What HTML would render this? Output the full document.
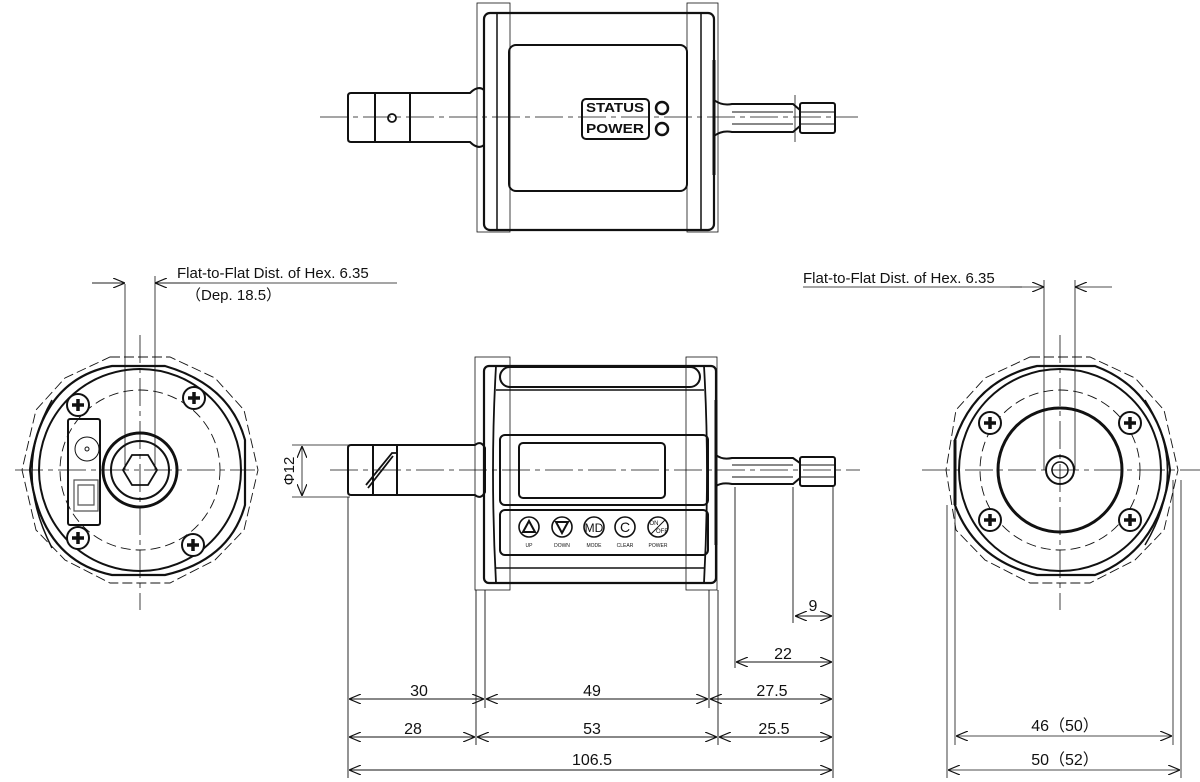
<!DOCTYPE html>
<html><head><meta charset="utf-8"><style>
body{margin:0;background:#fff}
svg{display:block}
text{font-family:"Liberation Sans",sans-serif;fill:#111}
</style></head><body>
<svg width="1200" height="782" viewBox="0 0 1200 782" xmlns="http://www.w3.org/2000/svg">
<defs>
<marker id="a" viewBox="0 0 12 10" refX="12" refY="5" markerWidth="12" markerHeight="10" orient="auto-start-reverse" markerUnits="userSpaceOnUse"><path d="M0,0 L12,5 L0,10" fill="none" stroke="#111" stroke-width="1.2"/></marker>
<g id="scr"><circle r="11" fill="#fff" stroke="#111" stroke-width="2"/><path d="M-6,0H6M0,-6V6" stroke="#111" stroke-width="3.5"/></g>
</defs>
<g fill="none" stroke="#111">
<!-- ===== TOP VIEW ===== -->
<line x1="320" y1="117" x2="858" y2="117" stroke-width="0.8" stroke-dasharray="28,5,5,5"/>
<rect x="477" y="3" width="33" height="229" stroke-width="0.8"/>
<rect x="687" y="3" width="31" height="229" stroke-width="0.8"/>
<rect x="484" y="13" width="230" height="217" rx="6" stroke-width="2.2"/>
<line x1="497" y1="13" x2="497" y2="230" stroke-width="1.5"/>
<line x1="701" y1="13" x2="701" y2="230" stroke-width="1.5"/>
<rect x="509" y="45" width="178" height="146" rx="7" stroke-width="2"/>
<path d="M351,93 H470 Q478,85 484,90 V145 Q478,150 470,142 H351 Q348,142 348,139 V96 Q348,93 351,93Z" stroke-width="2"/>
<line x1="375" y1="93" x2="375" y2="142" stroke-width="2"/>
<line x1="410" y1="93" x2="410" y2="142" stroke-width="2"/>
<circle cx="392" cy="118" r="4" stroke-width="1.8"/>
<rect x="582" y="99" width="67" height="40" rx="4" stroke-width="2"/>
<text x="615" y="112" font-size="13" font-weight="bold" text-anchor="middle" stroke="none" textLength="58" lengthAdjust="spacingAndGlyphs">STATUS</text>
<text x="615" y="133" font-size="13" font-weight="bold" text-anchor="middle" stroke="none" textLength="58" lengthAdjust="spacingAndGlyphs">POWER</text>
<circle cx="662" cy="108" r="6" stroke-width="2.5"/>
<circle cx="662" cy="129" r="6" stroke-width="2.5"/>
<path d="M714,60 V175" stroke-width="3"/>
<path d="M714,100 Q722,106 732,104 H793 L800,110 V126 L793,132 H732 Q722,130 714,136" stroke-width="2"/>
<rect x="800" y="103" width="35" height="30" rx="2" stroke-width="2"/>
<path d="M732,112 H793 M732,124 H793 M800,112 H835 M800,124 H835" stroke-width="1"/>
<line x1="795" y1="95" x2="795" y2="142" stroke-width="0.8"/>
<!-- ===== FRONT VIEW ===== -->
<line x1="330" y1="470" x2="860" y2="470" stroke-width="0.8" stroke-dasharray="28,5,5,5"/>
<rect x="475" y="357" width="35" height="233" stroke-width="0.8"/>
<rect x="686" y="357" width="31" height="233" stroke-width="0.8"/>
<rect x="484" y="366" width="232" height="217" rx="5" stroke-width="2.2"/>
<path d="M496,366 Q490,470 496,583 M704,366 Q710,470 704,583" stroke-width="1.8"/>
<rect x="500" y="367" width="200" height="20" rx="10" stroke-width="2"/>
<line x1="496" y1="390" x2="704" y2="390" stroke-width="1.5"/>
<line x1="496" y1="568" x2="704" y2="568" stroke-width="1.5"/>
<rect x="500" y="435" width="208" height="70" rx="5" stroke-width="2"/>
<rect x="519" y="443" width="146" height="55" rx="4" stroke-width="2"/>
<rect x="500" y="510" width="208" height="45" rx="5" stroke-width="2"/>
<circle cx="529" cy="527" r="10" stroke-width="1.6"/><path d="M523,532 L529,521 L535,532Z" stroke-width="2"/>
<circle cx="562" cy="527" r="10" stroke-width="1.6"/><path d="M556,522 L568,522 L562,533Z" stroke-width="2"/>
<circle cx="594" cy="527" r="10" stroke-width="1.6"/>
<circle cx="625" cy="527" r="10" stroke-width="1.6"/>
<circle cx="658" cy="527" r="10" stroke-width="1.6"/><line x1="651" y1="534" x2="665" y2="520" stroke-width="1"/>
<g stroke="none" text-anchor="middle">
<text x="594" y="532" font-size="12">MD</text>
<text x="625" y="532" font-size="14">C</text>
<text x="654" y="525" font-size="6">ON</text><text x="662" y="533" font-size="6">OFF</text>
<text x="529" y="547" font-size="5">UP</text><text x="562" y="547" font-size="5">DOWN</text><text x="594" y="547" font-size="5">MODE</text><text x="625" y="547" font-size="5">CLEAR</text><text x="658" y="547" font-size="5">POWER</text>
</g>
<path d="M351,445 H475 Q481,440 485,448 V492 Q481,500 475,495 H351 Q348,495 348,492 V448 Q348,445 351,445Z" stroke-width="2"/>
<line x1="373" y1="445" x2="373" y2="495" stroke-width="2"/>
<line x1="397" y1="445" x2="397" y2="495" stroke-width="2"/>
<path d="M366,485 L392,453 H396 M368,488 L393,456" stroke-width="1.8"/>
<path d="M716,400 V545" stroke-width="3"/>
<path d="M716,455 Q722,460 732,458 H793 L800,463 V478 L793,484 H732 Q722,482 716,486" stroke-width="2"/>
<rect x="800" y="457" width="35" height="29" rx="2" stroke-width="2"/>
<path d="M732,465 H793 M732,477 H793 M800,465 H835 M800,477 H835" stroke-width="1"/>
<!-- phi12 -->
<g stroke-width="0.8">
<line x1="292" y1="445" x2="350" y2="445"/><line x1="292" y1="497" x2="350" y2="497"/>
<line x1="302" y1="446" x2="302" y2="496" marker-start="url(#a)" marker-end="url(#a)"/>
</g>
<text transform="translate(294,471) rotate(-90)" font-size="15" text-anchor="middle" stroke="none">Φ12</text>
<!-- bottom dims -->
<g stroke-width="0.9">
<path d="M348,497 V778 M476,590 V745 M485,590 V708 M709,590 V708 M718,590 V745 M833,487 V778 M735,487 V668 M793,487 V623"/>
<line x1="795" y1="616" x2="832" y2="616" marker-start="url(#a)" marker-end="url(#a)"/>
<line x1="736" y1="662" x2="832" y2="662" marker-start="url(#a)" marker-end="url(#a)"/>
<line x1="349" y1="699" x2="484" y2="699" marker-start="url(#a)" marker-end="url(#a)"/>
<line x1="486" y1="699" x2="708" y2="699" marker-start="url(#a)" marker-end="url(#a)"/>
<line x1="710" y1="699" x2="832" y2="699" marker-start="url(#a)" marker-end="url(#a)"/>
<line x1="349" y1="737" x2="475" y2="737" marker-start="url(#a)" marker-end="url(#a)"/>
<line x1="477" y1="737" x2="717" y2="737" marker-start="url(#a)" marker-end="url(#a)"/>
<line x1="719" y1="737" x2="832" y2="737" marker-start="url(#a)" marker-end="url(#a)"/>
<line x1="349" y1="770" x2="832" y2="770" marker-start="url(#a)" marker-end="url(#a)"/>
</g>
<g stroke="none" font-size="16" text-anchor="middle">
<text x="813" y="611">9</text><text x="783" y="659">22</text>
<text x="419" y="696">30</text><text x="592" y="696">49</text><text x="772" y="696">27.5</text>
<text x="413" y="734">28</text><text x="592" y="734">53</text><text x="774" y="734">25.5</text>
<text x="592" y="765">106.5</text>
</g>
<!-- ===== LEFT VIEW ===== -->
<path d="M15,470 H255 M140,335 V610" stroke-width="0.8" stroke-dasharray="28,5,5,5"/>
<polygon points="110,357 170,357 215,378 244,410 258,470 244,530 215,560 170,583 110,583 65,560 36,530 22,470 36,410 65,378" stroke-width="0.9" stroke-dasharray="10,4"/>
<circle cx="140" cy="470" r="80" stroke-width="0.9" stroke-dasharray="10,5"/>
<path d="M112,366 H165 Q230,385 245,440 V505 Q230,560 165,575 H112 Q40,560 30,470 Q40,380 112,366Z" stroke-width="2.2"/>
<circle cx="140" cy="470" r="101" stroke-width="2"/>
<path d="M52,400 Q12,470 52,548" stroke-width="1.5"/>
<rect x="68" y="419" width="32" height="106" rx="2" stroke-width="2"/>
<circle cx="87" cy="449" r="12" stroke-width="1"/><circle cx="87" cy="449" r="2" stroke-width="1"/>
<path d="M74,480 H98 V511 H74Z M78,485 H94 V505 H78Z" stroke-width="1.2" stroke="#555"/>
<circle cx="140" cy="470" r="37" stroke-width="3"/>
<circle cx="140" cy="470" r="29" stroke-width="2"/>
<polygon points="157,470 148,485 132,485 123,470 132,455 148,455" stroke-width="1.8"/>
<use href="#scr" x="78" y="405"/><use href="#scr" x="194" y="398"/><use href="#scr" x="78" y="538"/><use href="#scr" x="193" y="545"/>
<g stroke-width="0.8">
<path d="M125,284 V470 M155,276 V470 M92,283 H125 M155,283 H168 M168,283 H397"/>
<line x1="92" y1="283" x2="125" y2="283" marker-end="url(#a)"/>
<line x1="190" y1="283" x2="155" y2="283" marker-end="url(#a)"/>
</g>
<text x="177" y="278" font-size="15" stroke="none">Flat-to-Flat Dist. of Hex. 6.35</text>
<text x="186" y="300" font-size="15" stroke="none">（Dep. 18.5）</text>
<!-- ===== RIGHT VIEW ===== -->
<path d="M922,470 H1200 M1060,335 V610" stroke-width="0.8" stroke-dasharray="28,5,5,5"/>
<polygon points="1030,357 1090,357 1135,378 1164,410 1178,470 1164,530 1135,560 1090,583 1030,583 985,560 956,530 946,470 956,410 985,378" stroke-width="0.9" stroke-dasharray="10,4"/>
<circle cx="1060" cy="470" r="80" stroke-width="0.9" stroke-dasharray="10,5"/>
<path d="M1037,366 H1095 Q1160,390 1170,470 Q1160,550 1095,575 H1037 Q975,560 955,505 V440 Q975,380 1037,366Z" stroke-width="2.2"/>
<circle cx="1060" cy="470" r="101" stroke-width="2"/>
<path d="M1145,400 Q1190,470 1145,545" stroke-width="1.5"/>
<line x1="955" y1="440" x2="955" y2="505" stroke-width="3"/>
<circle cx="1060" cy="470" r="62" stroke-width="3"/>
<circle cx="1060" cy="470" r="14" stroke-width="2"/>
<circle cx="1060" cy="470" r="8" stroke-width="1.5"/>
<use href="#scr" x="990" y="423"/><use href="#scr" x="1130" y="423"/><use href="#scr" x="990" y="520"/><use href="#scr" x="1130" y="520"/>
<g stroke-width="0.8">
<path d="M1044,280 V470 M1075,280 V470 M803,287 H1022"/>
<line x1="1010" y1="287" x2="1044" y2="287" marker-end="url(#a)"/>
<line x1="1112" y1="287" x2="1075" y2="287" marker-end="url(#a)"/>
<path d="M955,505 V745 M947,505 V778 M1173,480 V745 M1181,480 V778"/>
<line x1="956" y1="736" x2="1172" y2="736" marker-start="url(#a)" marker-end="url(#a)"/>
<line x1="948" y1="770" x2="1180" y2="770" marker-start="url(#a)" marker-end="url(#a)"/>
</g>
<text x="803" y="283" font-size="15" stroke="none">Flat-to-Flat Dist. of Hex. 6.35</text>
<text x="1065" y="731" font-size="16" stroke="none" text-anchor="middle">46（50）</text>
<text x="1065" y="765" font-size="16" stroke="none" text-anchor="middle">50（52）</text>
</g>
</svg>
</body></html>
